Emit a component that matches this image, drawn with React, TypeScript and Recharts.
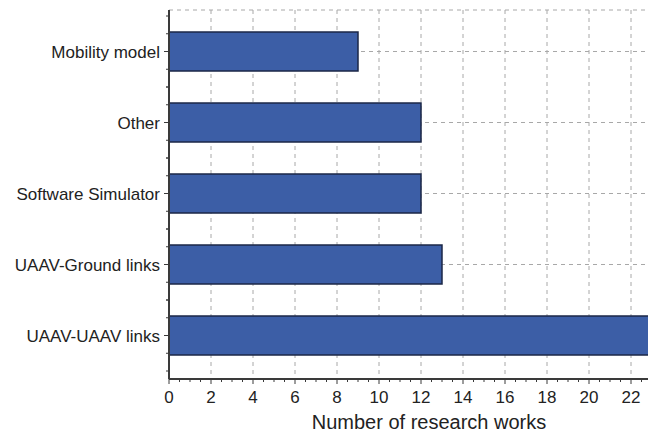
import { Bar, BarChart, CartesianGrid, XAxis, YAxis } from "recharts";

const categorias = [
  "Mobility model",
  "Other",
  "Software Simulator",
  "UAAV-Ground links",
  "UAAV-UAAV links",
];
const trabalhos = [9, 12, 12, 13, 23];

const ticksX = Array.from({ length: 49 }, (_, i) => i * 0.5);
const rotulosX = [0, 2, 4, 6, 8, 10, 12, 14, 16, 18, 20, 22];
const ticksGrade = [2, 4, 6, 8, 10, 12, 14, 16, 18, 20, 22, 24];

const dados = categorias.map((nome, i) => ({ nome, valor: trabalhos[i] }));

const FONTE = "'Liberation Sans', Arial, sans-serif";
const EIXO = "#3a3a3a";

function TickX(props: any) {
  const { x, y, payload } = props;
  const v = payload.value as number;
  const maior = v % 2 === 0;
  return (
    <g>
      <line x1={x} y1={y} x2={x} y2={y + (maior ? 5 : 3)} stroke={EIXO} strokeWidth={1} />
      {rotulosX.includes(v) && (
        <text x={x} y={y + 24} textAnchor="middle" fontSize={17} fill="#222" fontFamily={FONTE}>
          {v}
        </text>
      )}
    </g>
  );
}

function TickY(props: any) {
  const { x, y, payload } = props;
  const meia = payload.offset && payload.offset > 0 ? payload.offset : 35.5;
  const menores = [-meia, -meia / 2, meia / 2, meia];
  return (
    <g>
      <line x1={x - 5} y1={y} x2={x} y2={y} stroke={EIXO} strokeWidth={1} />
      {menores.map((d) => (
        <line key={d} x1={x - 3} y1={y + d} x2={x} y2={y + d} stroke={EIXO} strokeWidth={1} />
      ))}
      <text x={x - 9} y={y} dy={6} textAnchor="end" fontSize={17} fill="#222" fontFamily={FONTE}>
        {payload.value}
      </text>
    </g>
  );
}

export default function App() {
  return (
    <div
      style={{
        position: "absolute",
        left: 0,
        top: 0,
        width: 648,
        height: 432,
        overflow: "hidden",
        background: "#fff",
      }}
    >
      <BarChart
        width={680}
        height={432}
        data={dados}
        layout="vertical"
        margin={{ top: 10, right: 7, bottom: 0, left: 0 }}
      >
        <CartesianGrid
          stroke="#a8a8a8"
          strokeDasharray="4 4"
          verticalCoordinatesGenerator={({ xAxis, offset }: any) =>
            ticksGrade.map((v) =>
              xAxis && typeof xAxis.scale === "function"
                ? xAxis.scale(v)
                : offset.left + (v / 24) * offset.width
            )
          }
        />
        <XAxis
          type="number"
          domain={[0, 24]}
          ticks={ticksX}
          interval={0}
          height={53}
          tickSize={0}
          tickMargin={0}
          tickLine={false}
          tick={<TickX />}
          axisLine={{ stroke: EIXO, strokeWidth: 2 }}
          label={{
            value: "Number of research works",
            position: "insideBottom",
            offset: 3,
            dx: 8,
            fontSize: 20,
            fill: "#222",
            fontFamily: FONTE,
          }}
        />
        <YAxis
          type="category"
          dataKey="nome"
          width={169}
          padding={{ top: 6, bottom: 8 }}
          interval={0}
          tickSize={0}
          tickMargin={0}
          tickLine={false}
          tick={<TickY />}
          axisLine={{ stroke: EIXO, strokeWidth: 2 }}
        />
        <Bar
          dataKey="valor"
          fill="#3c5ea6"
          stroke="#1b2747"
          strokeWidth={1.5}
          barSize={39}
          isAnimationActive={false}
        />
      </BarChart>
    </div>
  );
}
